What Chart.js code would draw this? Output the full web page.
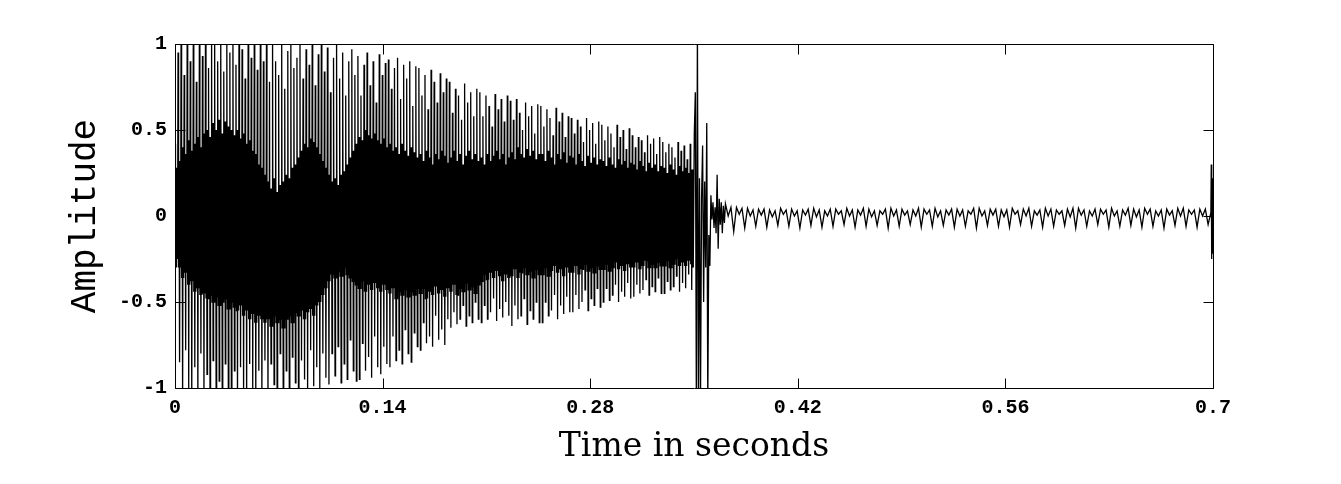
<!DOCTYPE html>
<html>
<head>
<meta charset="utf-8">
<script src="https://cdn.jsdelivr.net/npm/chart.js@4"></script>
<style>
  html, body { margin: 0; padding: 0; background: #fff; }
  canvas { display: block; }
</style>
</head>
<body>
<canvas id="wave" width="1341" height="484"></canvas>
<script>
// body of the note, one value per cycle
const bodyPeaks = [
  0.42, 0.95, 1.1, 0.82, 1.1, 0.9, 1.05, 0.78, 1.1, 0.93,
  1.1, 0.86, 1.02, 1.1, 0.9, 1.1, 0.84, 1.06, 0.95, 1.1,
  0.88, 1.1, 0.97, 0.8, 1.1, 0.92, 1.04, 0.85, 1.1, 0.9,
  1.0, 0.78, 1.05, 0.9, 0.82, 1.03, 0.74, 0.96, 1.05, 0.86,
  0.92, 1.02, 0.8, 0.97, 0.88, 1.0, 0.76, 0.94, 1.02, 0.84,
  0.98, 0.72, 0.92, 1.0, 0.8, 0.95, 0.7, 0.9, 0.97, 0.82,
  0.93, 0.7, 0.88, 0.95, 0.76, 0.9, 0.66, 0.94, 0.82, 0.89,
  0.91, 0.74, 0.86, 0.92, 0.68, 0.88, 0.8, 0.9, 0.64, 0.87,
  0.86, 0.7, 0.82, 0.62, 0.85, 0.78, 0.66, 0.83, 0.72, 0.8,
  0.78, 0.6, 0.74, 0.7, 0.56, 0.77, 0.66, 0.72, 0.58, 0.74,
  0.72, 0.58, 0.7, 0.64, 0.52, 0.71, 0.62, 0.68, 0.55, 0.7,
  0.67, 0.56, 0.68, 0.6, 0.5, 0.66, 0.58, 0.64, 0.48, 0.65,
  0.64, 0.52, 0.62, 0.57, 0.47, 0.63, 0.55, 0.6, 0.46, 0.58,
  0.57, 0.48, 0.56, 0.52, 0.43, 0.57, 0.5, 0.54, 0.42, 0.55,
  0.53, 0.44, 0.52, 0.48, 0.4, 0.53, 0.46, 0.5, 0.39, 0.51,
  0.47, 0.4, 0.46, 0.44, 0.37, 0.47, 0.42, 0.45, 0.36, 0.46,
  0.43, 0.37, 0.42, 0.4, 0.34, 0.43, 0.38, 0.41, 0.33, 0.42
];
const bodyCoreLow = [
  -0.25, -0.3, -0.36, -0.33, -0.4, -0.38, -0.44, -0.42, -0.46, -0.45,
  -0.48, -0.46, -0.5, -0.47, -0.52, -0.5, -0.48, -0.54, -0.5, -0.53,
  -0.55, -0.52, -0.58, -0.55, -0.6, -0.57, -0.62, -0.58, -0.6, -0.62,
  -0.6, -0.64, -0.58, -0.62, -0.6, -0.65, -0.6, -0.58, -0.62, -0.56,
  -0.58, -0.55, -0.6, -0.56, -0.54, -0.58, -0.52, -0.5, -0.46, -0.42,
  -0.38, -0.34, -0.36, -0.32, -0.35, -0.3, -0.34, -0.36, -0.38, -0.4,
  -0.42, -0.38, -0.44, -0.4, -0.43, -0.39, -0.42, -0.44, -0.4, -0.43,
  -0.45, -0.42, -0.48, -0.44, -0.46, -0.43, -0.47, -0.44, -0.46, -0.42,
  -0.45, -0.42, -0.48, -0.44, -0.46, -0.41, -0.45, -0.43, -0.47, -0.42,
  -0.44, -0.4, -0.46, -0.42, -0.44, -0.39, -0.43, -0.41, -0.45, -0.4,
  -0.38, -0.34, -0.37, -0.33, -0.36, -0.32, -0.35, -0.38, -0.34, -0.36,
  -0.35, -0.31, -0.36, -0.33, -0.3, -0.34, -0.32, -0.36, -0.31, -0.34,
  -0.34, -0.3, -0.35, -0.32, -0.29, -0.33, -0.31, -0.35, -0.3, -0.33,
  -0.33, -0.29, -0.34, -0.31, -0.28, -0.32, -0.3, -0.33, -0.29, -0.31,
  -0.31, -0.28, -0.32, -0.3, -0.27, -0.31, -0.29, -0.32, -0.28, -0.3,
  -0.3, -0.27, -0.31, -0.29, -0.26, -0.3, -0.28, -0.3, -0.27, -0.29,
  -0.29, -0.26, -0.3, -0.28, -0.25, -0.29, -0.27, -0.29, -0.26, -0.28
];
const bodyCoreHigh = [
  0.28, 0.32, 0.4, 0.36, 0.44, 0.38, 0.42, 0.46, 0.4, 0.48,
  0.5, 0.46, 0.54, 0.5, 0.56, 0.48, 0.55, 0.52, 0.5, 0.47,
  0.5, 0.45, 0.48, 0.42, 0.44, 0.38, 0.36, 0.3, 0.28, 0.24,
  0.2, 0.16, 0.22, 0.14, 0.18, 0.2, 0.24, 0.22, 0.28, 0.3,
  0.34, 0.38, 0.42, 0.4, 0.45, 0.43, 0.4, 0.36, 0.32, 0.28,
  0.24, 0.2, 0.22, 0.18, 0.24, 0.26, 0.3, 0.34, 0.38, 0.42,
  0.46, 0.44, 0.5, 0.47, 0.45, 0.48, 0.44, 0.42, 0.45, 0.4,
  0.42, 0.38, 0.4, 0.36, 0.42, 0.38, 0.35, 0.4, 0.37, 0.34,
  0.36, 0.32, 0.38, 0.34, 0.3, 0.36, 0.33, 0.38, 0.35, 0.31,
  0.34, 0.38, 0.32, 0.36, 0.3, 0.35, 0.38, 0.33, 0.36, 0.32,
  0.34, 0.3, 0.36, 0.32, 0.35, 0.38, 0.33, 0.36, 0.3, 0.34,
  0.37, 0.33, 0.4, 0.36, 0.34, 0.39, 0.35, 0.38, 0.33, 0.36,
  0.36, 0.32, 0.38, 0.34, 0.3, 0.36, 0.33, 0.37, 0.31, 0.35,
  0.34, 0.3, 0.36, 0.32, 0.29, 0.35, 0.31, 0.34, 0.3, 0.33,
  0.32, 0.29, 0.34, 0.3, 0.28, 0.33, 0.3, 0.32, 0.28, 0.31,
  0.3, 0.27, 0.32, 0.29, 0.26, 0.31, 0.28, 0.3, 0.26, 0.29,
  0.28, 0.25, 0.3, 0.27, 0.24, 0.29, 0.26, 0.28, 0.25, 0.27
];
const bodyTroughs = [
  -0.3, -0.85, -1.1, -0.78, -1.0, -1.1, -0.88, -1.1, -0.8, -1.05,
  -0.92, -1.1, -0.84, -1.1, -0.96, -1.1, -0.86, -1.04, -1.1, -0.9,
  -1.1, -0.88, -1.05, -1.1, -0.86, -1.0, -1.1, -0.9, -1.06, -0.84,
  -1.05, -0.86, -0.98, -1.05, -0.8, -1.02, -0.9, -1.05, -0.82, -0.97,
  -1.02, -0.84, -0.95, -1.02, -0.78, -0.99, -0.88, -1.0, -0.8, -0.94,
  -0.98, -0.8, -0.93, -0.76, -0.97, -0.86, -0.95, -0.72, -0.9, -0.96,
  -0.95, -0.74, -0.9, -0.82, -0.94, -0.7, -0.88, -0.92, -0.76, -0.86,
  -0.88, -0.7, -0.84, -0.78, -0.86, -0.66, -0.8, -0.85, -0.68, -0.76,
  -0.78, -0.62, -0.74, -0.7, -0.76, -0.58, -0.72, -0.66, -0.75, -0.6,
  -0.65, -0.56, -0.63, -0.6, -0.52, -0.64, -0.58, -0.62, -0.5, -0.6,
  -0.62, -0.52, -0.6, -0.56, -0.48, -0.61, -0.54, -0.59, -0.5, -0.58,
  -0.64, -0.52, -0.6, -0.58, -0.48, -0.63, -0.55, -0.6, -0.5, -0.62,
  -0.62, -0.5, -0.58, -0.55, -0.46, -0.6, -0.52, -0.57, -0.47, -0.56,
  -0.56, -0.46, -0.54, -0.5, -0.43, -0.55, -0.48, -0.52, -0.42, -0.53,
  -0.5, -0.42, -0.49, -0.46, -0.4, -0.5, -0.44, -0.47, -0.39, -0.48,
  -0.47, -0.4, -0.45, -0.43, -0.37, -0.46, -0.41, -0.44, -0.36, -0.45,
  -0.45, -0.38, -0.43, -0.41, -0.35, -0.44, -0.39, -0.42, -0.34, -0.43
];
const bodyEnd = 0.3495; // seconds

// release transient
const release = [
  -0.3, 0.48, 0.72, -1.1, 1.1, -1.1, 0.22, -1.05, 0.1, 0.41,
  -0.5, 0.2, -0.3, 0.54, -1.08, -0.11, -0.29, 0.12, -0.02, 0.08,
  -0.07, 0.05, -0.1, 0.24, -0.19, 0.1, -0.05, 0.08, -0.1, 0.06, -0.04
];
const releaseStep = 0.0007;

// low residual ringing, 4 samples a cycle
const tail = [
  0.07, 0.0, 0.05, -0.09,
  0.05, 0.01, 0.045, -0.07,
  0.045, 0.0, 0.035, -0.06,
  0.04, 0.005, 0.04, -0.065,
  0.035, -0.005, 0.03, -0.055,
  0.045, 0.01, 0.035, -0.06,
  0.04, 0.0, 0.03, -0.07,
  0.035, 0.005, 0.04, -0.055,
  0.045, -0.005, 0.035, -0.065,
  0.03, 0.0, 0.04, -0.06,
  0.04, 0.01, 0.03, -0.05,
  0.045, 0.0, 0.035, -0.065,
  0.035, 0.005, 0.045, -0.06,
  0.04, -0.005, 0.03, -0.055,
  0.03, 0.01, 0.04, -0.07,
  0.045, 0.0, 0.035, -0.06,
  0.04, 0.005, 0.03, -0.05,
  0.035, 0.0, 0.045, -0.065,
  0.04, 0.01, 0.035, -0.06,
  0.045, -0.005, 0.03, -0.055,
  0.035, 0.005, 0.04, -0.065,
  0.04, 0.0, 0.035, -0.06,
  0.03, 0.01, 0.045, -0.07,
  0.045, 0.0, 0.03, -0.055,
  0.04, 0.005, 0.04, -0.06,
  0.035, -0.005, 0.035, -0.065,
  0.045, 0.01, 0.03, -0.05,
  0.04, 0.0, 0.045, -0.06,
  0.03, 0.005, 0.035, -0.065,
  0.045, 0.0, 0.04, -0.06,
  0.035, 0.01, 0.03, -0.055,
  0.04, -0.005, 0.045, -0.07,
  0.045, 0.005, 0.035, -0.06,
  0.03, 0.0, 0.04, -0.05,
  0.04, 0.01, 0.035, -0.065,
  0.045, 0.0, 0.03, -0.06,
  0.035, 0.005, 0.045, -0.055,
  0.04, -0.005, 0.035, -0.065,
  0.045, 0.01, 0.04, -0.06,
  0.03, 0.0, 0.035, -0.07,
  0.04, 0.005, 0.03, -0.055,
  0.045, 0.0, 0.045, -0.06,
  0.035, 0.01, 0.035, -0.065,
  0.04, 0.0, 0.04, -0.05
];
const tailStep = 0.00186;

// click at the very end
const lastSamples = [0.02, 0.3, -0.25, 0.22, -0.22, 0.05];
const lastStep = 0.00028;

const xTicks = [0, 0.14, 0.28, 0.42, 0.56, 0.7];
const yTicks = [-1, -0.5, 0, 0.5, 1];

// lay the samples out on the time axis; each body cycle swings
// peak -> core -> trough and wobbles inside the core on the way back
const points = [];
const bodyStep = bodyEnd / (bodyPeaks.length * 6);
let t = 0;
bodyPeaks.forEach((p, i) => {
  const lo = bodyCoreLow[i], hi = bodyCoreHigh[i];
  [p, lo, hi, bodyTroughs[i], hi, lo].forEach((v) => {
    points.push({ x: t, y: v });
    t += bodyStep;
  });
});
t = bodyEnd;
release.forEach((v) => { points.push({ x: t, y: v }); t += releaseStep; });
tail.forEach((v) => { points.push({ x: t, y: v }); t += tailStep; });
lastSamples.forEach((v) => { points.push({ x: t, y: v }); t += lastStep; });

// box round the plot with inward tick marks on all four sides
const frame = {
  id: "frame",
  afterDatasetsDraw(chart) {
    const { ctx, chartArea: a, scales } = chart;
    const L = Math.round(a.left) + 0.5, R = Math.round(a.right) + 0.5;
    const T = Math.round(a.top) + 0.5, B = Math.round(a.bottom) + 0.5;
    ctx.save();
    ctx.strokeStyle = "#000";
    ctx.lineWidth = 1;
    ctx.beginPath();
    xTicks.forEach((v) => {
      const px = Math.round(scales.x.getPixelForValue(v)) + 0.5;
      ctx.moveTo(px, B); ctx.lineTo(px, B - 10);
      ctx.moveTo(px, T); ctx.lineTo(px, T + 10);
    });
    yTicks.forEach((v) => {
      const py = Math.round(scales.y.getPixelForValue(v)) + 0.5;
      ctx.moveTo(L, py); ctx.lineTo(L + 10, py);
      ctx.moveTo(R, py); ctx.lineTo(R - 10, py);
    });
    ctx.rect(L, T, R - L, B - T);
    ctx.stroke();
    ctx.restore();
  },
};

const tickFont = { family: "'Liberation Mono', monospace", size: 20, weight: "bold" };

const build = () => new Chart(document.querySelector("#wave"), {
  type: "line",
  data: {
    datasets: [{
      data: points,
      borderColor: "#000",
      borderWidth: 1.3,
      pointRadius: 0,
      tension: 0,
      fill: false,
    }],
  },
  options: {
    responsive: false,
    animation: false,
    parsing: false,
    normalized: true,
    events: [],
    layout: { padding: { top: 44, right: 128, left: 0, bottom: 0 } },
    plugins: { legend: { display: false }, tooltip: { enabled: false } },
    scales: {
      x: {
        type: "linear",
        min: 0,
        max: 0.7,
        afterBuildTicks: (s) => { s.ticks = xTicks.map((v) => ({ value: v })); },
        afterFit: (s) => { s.height = 96; },
        grid: { display: false, drawTicks: false },
        border: { display: false },
        ticks: {
          autoSkip: false,
          maxRotation: 0,
          padding: 8,
          color: "#000",
          font: tickFont,
          callback: (v) => String(v),
        },
        title: {
          display: true,
          text: "Time in seconds",
          color: "#000",
          font: { family: "'DejaVu Serif', serif", size: 33 },
          padding: { top: 0, bottom: 17 },
        },
      },
      y: {
        type: "linear",
        min: -1,
        max: 1,
        afterBuildTicks: (s) => { s.ticks = yTicks.map((v) => ({ value: v })); },
        afterFit: (s) => { s.width = 175; },
        grid: { display: false, drawTicks: false },
        border: { display: false },
        ticks: {
          autoSkip: false,
          padding: 8,
          color: "#000",
          font: tickFont,
          callback: (v) => String(v),
        },
        title: {
          display: true,
          text: "Amplitude",
          color: "#000",
          font: { family: "'Liberation Mono', monospace", size: 36 },
          padding: { top: 64, bottom: 0 },
        },
      },
    },
  },
  plugins: [frame],
});

Promise.all([
  document.fonts.load("bold 20px 'Liberation Mono'"),
  document.fonts.load("36px 'Liberation Mono'"),
  document.fonts.load("33px 'DejaVu Serif'"),
]).then(build, build);
</script>
</body>
</html>
